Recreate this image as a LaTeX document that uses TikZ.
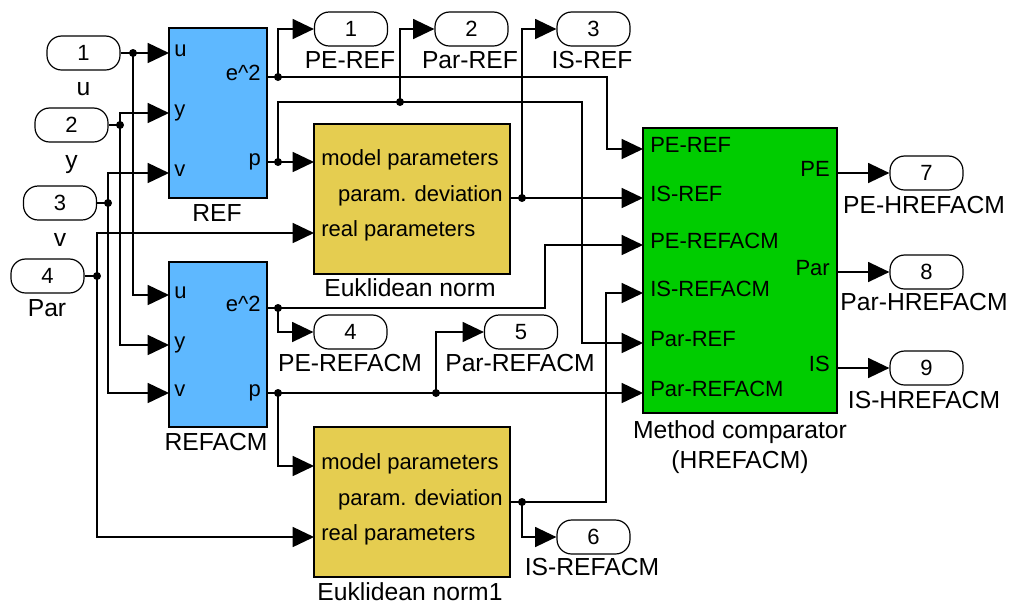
\documentclass[tikz,border=0pt]{standalone}
\usepackage{fontspec}
\setmainfont{Liberation Sans}
\usetikzlibrary{arrows.meta}
\definecolor{blkblue}{RGB}{94,184,255}
\definecolor{blkyel}{RGB}{229,205,80}
\definecolor{blkgrn}{RGB}{0,204,0}
\begin{document}
\begin{tikzpicture}[x=0.75pt,y=-0.75pt,
  wire/.style={line width=1.2pt},
  arr/.style={wire,-{Triangle[length=16pt,width=15pt]}},
  blk/.style={draw,line width=1.3pt,inner sep=0pt},
  port/.style={draw,line width=0.9pt,rounded corners=11pt,minimum width=54.75pt,minimum height=25.5pt,inner sep=0pt,font=\fontsize{16.5}{18}\selectfont},
  txt/.style={inner sep=0pt,text height=0.72em,text depth=0.2em,font=\fontsize{16.5}{18}\selectfont},
  lbl/.style={inner sep=0pt,text height=0.72em,text depth=0.2em,font=\fontsize{18.5}{20}\selectfont},
  dot/.style={circle,fill,inner sep=0pt,minimum size=6pt}]
\useasboundingbox (0,0) rectangle (1010,608);

% ---------- blocks ----------
\node[blk,fill=blkblue,minimum width=73.5pt,minimum height=127.5pt] (ref) at (218,113) {};
\node[blk,fill=blkblue,minimum width=73.5pt,minimum height=123.75pt] (rcm) at (218,344.5) {};
\node[blk,fill=blkyel,minimum width=147pt,minimum height=112.5pt] (eu1) at (412,199) {};
\node[blk,fill=blkyel,minimum width=147pt,minimum height=112.5pt] (eu2) at (412,502) {};
\node[blk,fill=blkgrn,minimum width=145.5pt,minimum height=213.75pt] (cmp) at (740,270.5) {};

% block port texts
\node[txt,anchor=west] (tru) at (174,53) {u};
\node[txt,anchor=west] (try) at (174,113) {y};
\node[txt,anchor=west] (trv) at (174,173) {v};
\node[txt,anchor=east] (tre) at (261,77) {e\textasciicircum 2};
\node[txt,anchor=east] (trp) at (261,162) {p};
\node[txt,anchor=west] (tau) at (174,295) {u};
\node[txt,anchor=west] (tay) at (174,345) {y};
\node[txt,anchor=west] (tav) at (174,393) {v};
\node[txt,anchor=east] (tae) at (261,308) {e\textasciicircum 2};
\node[txt,anchor=east] (tap) at (261,393) {p};

\node[txt,anchor=west] (te1m) at (321,162) {model parameters};
\node[txt,anchor=east] (te1d) at (503,198) {param. deviation};
\node[txt,anchor=west] (te1r) at (321,233) {real parameters};
\node[txt,anchor=west] (te2m) at (321,466) {model parameters};
\node[txt,anchor=east] (te2d) at (503,502) {param. deviation};
\node[txt,anchor=west] (te2r) at (321,537) {real parameters};

\node[txt,anchor=west] (tc1) at (650,149) {PE-REF};
\node[txt,anchor=west] (tc2) at (650,198) {IS-REF};
\node[txt,anchor=west] (tc3) at (650,245) {PE-REFACM};
\node[txt,anchor=west] (tc4) at (650,293) {IS-REFACM};
\node[txt,anchor=west] (tc5) at (650,343) {Par-REF};
\node[txt,anchor=west] (tc6) at (650,393) {Par-REFACM};
\node[txt,anchor=east] (tco1) at (830,173) {PE};
\node[txt,anchor=east] (tco2) at (830,272) {Par};
\node[txt,anchor=east] (tco3) at (830,368) {IS};

% block names
\node[lbl] (nref) at (217,218) {REF};
\node[lbl] (nrcm) at (216,447) {REFACM};
\node[lbl] (neu1) at (410,293) {Euklidean norm};
\node[lbl] (neu2) at (410,597) {Euklidean norm1};
\node[lbl] (ncmp1) at (740,435) {Method comparator};
\node[lbl] (ncmp2) at (740,465) {(HREFACM)};

% ---------- ports ----------
\node[port] (in1) at (83.5,53) {1};
\node[lbl] (lin1) at (83.5,92) {u};
\node[port] (in2) at (71.5,125) {2};
\node[lbl] (lin2) at (71.5,165) {y};
\node[port] (in3) at (60,203) {3};
\node[lbl] (lin3) at (60,243) {v};
\node[port] (in4) at (47.5,276) {4};
\node[lbl] (lin4) at (47,313) {Par};

\node[port] (out1) at (351,29) {1};
\node[lbl] (lout1) at (350,65) {PE-REF};
\node[port] (out2) at (471.5,29) {2};
\node[lbl] (lout2) at (470,65) {Par-REF};
\node[port] (out3) at (593.5,29) {3};
\node[lbl] (lout3) at (592,65) {IS-REF};
\node[port] (out4) at (350.5,332) {4};
\node[lbl] (lout4) at (350,368) {PE-REFACM};
\node[port] (out5) at (521,332) {5};
\node[lbl] (lout5) at (520,368) {Par-REFACM};
\node[port] (out6) at (593.5,537) {6};
\node[lbl] (lout6) at (592,572) {IS-REFACM};
\node[port] (out7) at (926.5,173) {7};
\node[lbl] (lout7) at (924,210) {PE-HREFACM};
\node[port] (out8) at (926.5,272) {8};
\node[lbl] (lout8) at (924,307) {Par-HREFACM};
\node[port] (out9) at (926.5,368) {9};
\node[lbl] (lout9) at (924,405) {IS-HREFACM};

% ---------- port coordinates ----------
\coordinate (refU) at (169,53);
\coordinate (refY) at (169,113);
\coordinate (refV) at (169,173);
\coordinate (refE) at (267,77);
\coordinate (refP) at (267,162);
\coordinate (rcmU) at (169,295);
\coordinate (rcmY) at (169,345);
\coordinate (rcmV) at (169,393);
\coordinate (rcmE) at (267,308);
\coordinate (rcmP) at (267,393);
\coordinate (eu1M) at (314,162);
\coordinate (eu1R) at (314,233);
\coordinate (eu1D) at (510,198);
\coordinate (eu2M) at (314,466);
\coordinate (eu2R) at (314,537);
\coordinate (eu2D) at (510,502);
\coordinate (cPER) at (643,149);
\coordinate (cISR) at (643,198);
\coordinate (cPEA) at (643,245);
\coordinate (cISA) at (643,293);
\coordinate (cParR) at (643,343);
\coordinate (cParA) at (643,393);
\coordinate (cPE) at (837,173);
\coordinate (cPar) at (837,272);
\coordinate (cIS) at (837,368);
% bends
\coordinate (b1) at (607,77);
\coordinate (b2) at (582,102);
\coordinate (b3) at (545,308);
\coordinate (b4) at (606,502);
% junctions
\node[dot] (j1) at (133,53) {};
\node[dot] (j2) at (120,125) {};
\node[dot] (j3) at (108,203) {};
\node[dot] (j4) at (97,276) {};
\node[dot] (j5) at (278,77) {};
\node[dot] (j6) at (278,162) {};
\node[dot] (j7) at (400,102) {};
\node[dot] (j8) at (522,198) {};
\node[dot] (j9) at (278,308) {};
\node[dot] (j10) at (278,393) {};
\node[dot] (j11) at (436,393) {};
\node[dot] (j12) at (522,502) {};

% ---------- wires ----------
\draw[wire] (in1.east) -- (j1.center);
\draw[arr] (j1.center) -- (refU);
\draw[arr] (j1.center) |- (rcmU);
\draw[wire] (in2.east) -- (j2.center);
\draw[arr] (j2.center) |- (refY);
\draw[arr] (j2.center) |- (rcmY);
\draw[wire] (in3.east) -- (j3.center);
\draw[arr] (j3.center) |- (refV);
\draw[arr] (j3.center) |- (rcmV);
\draw[wire] (in4.east) -- (j4.center);
\draw[arr] (j4.center) |- (eu1R);
\draw[arr] (j4.center) |- (eu2R);

\draw[wire] (refE) -- (j5.center);
\draw[arr] (j5.center) |- (out1.west);
\draw[arr] (j5.center) -- (b1) |- (cPER);
\draw[wire] (refP) -- (j6.center);
\draw[arr] (j6.center) -- (eu1M);
\draw[arr] (j6.center) |- (b2) |- (cParR);
\draw[arr] (j7.center) |- (out2.west);

\draw[wire] (eu1D) -- (j8.center);
\draw[arr] (j8.center) |- (out3.west);
\draw[arr] (j8.center) -- (cISR);

\draw[wire] (rcmE) -- (j9.center);
\draw[arr] (j9.center) -- (b3) |- (cPEA);
\draw[arr] (j9.center) |- (out4.west);
\draw[wire] (rcmP) -- (j10.center);
\draw[arr] (j10.center) -- (cParA);
\draw[arr] (j11.center) |- (out5.west);
\draw[arr] (j10.center) |- (eu2M);

\draw[wire] (eu2D) -- (j12.center);
\draw[arr] (j12.center) -- (b4) |- (cISA);
\draw[arr] (j12.center) |- (out6.west);

\draw[arr] (cPE) -- (out7.west);
\draw[arr] (cPar) -- (out8.west);
\draw[arr] (cIS) -- (out9.west);
\end{tikzpicture}
\end{document}
